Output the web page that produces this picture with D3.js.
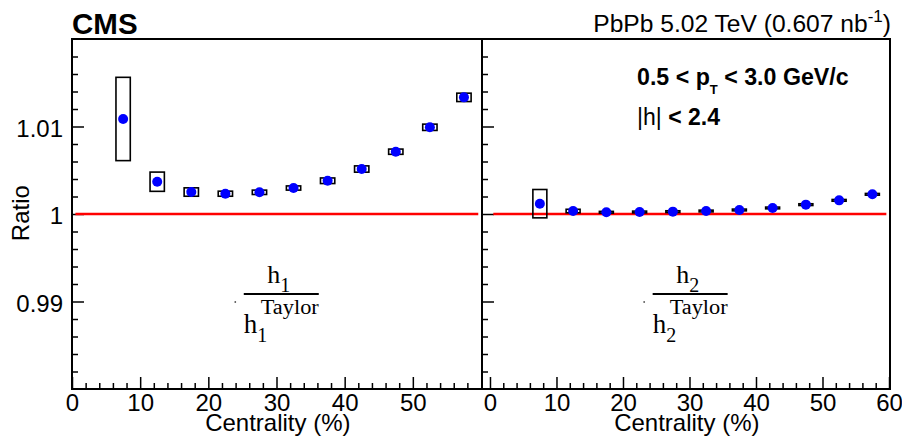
<!DOCTYPE html>
<html lang="en">
<head>
  <title>h1 h2 Taylor ratio</title>
  <script type="text/javascript" src="https://cdnjs.cloudflare.com/ajax/libs/d3/7.8.5/d3.min.js"></script>
  <style>
    body { margin: 0; background: #fff; }
    text { font-family: "Liberation Sans", Arial, Helvetica, sans-serif; }
    .serif, .serif text { font-family: "Liberation Serif", "Times New Roman", serif; }
  </style>
</head>
<body>
  <script type="text/javascript">
    var width = 902;
    var height = 443;

    // data
    var centrality = [7.5, 12.5, 17.5, 22.5, 27.5, 32.5, 37.5, 42.5, 47.5, 52.5, 57.5];
    var h1Ratio = [1.01086, 1.00369, 1.00251, 1.00232, 1.00248, 1.00297, 1.0038, 1.00514, 1.00712, 1.00991, 1.01333];
    var h1Sys   = [0.00476, 0.0011, 0.00048, 0.00029, 0.00025, 0.00024, 0.00032, 0.00036, 0.0003, 0.00036, 0.00048];
    var h2Ratio = [1.00118, 1.00034, 1.0002, 1.00023, 1.00027, 1.00034, 1.00046, 1.00069, 1.00107, 1.00156, 1.00225];
    var h2Sys   = [0.00162, 0.0002, 0.0001, 0.0001, 0.0001, 0.0001, 0.0001, 0.0001, 0.0001, 0.0001, 0.0001];
    var binHalf = 1.05;

    var xTicksLeft = [0, 10, 20, 30, 40, 50];
    var xTicksRight = [0, 10, 20, 30, 40, 50, 60];
    var yTicks = [0.99, 1, 1.01];

    var yTop = 39, yBottom = 389;
    var xL = d3.scaleLinear().domain([0, 60]).range([72, 481]);
    var xR = d3.scaleLinear().domain([-1.2, 60]).range([482, 889]);
    var y = d3.scaleLinear().domain([0.98, 1.02]).range([yBottom, yTop]);

    var svg = d3.select("body").append("svg")
      .attr("width", width)
      .attr("height", height);

    function minors(lo, hi, step, skip) {
      var out = [];
      for (var v = lo; v <= hi + 1e-9; v += step) {
        var r = Math.round(v * 1e6) / 1e6;
        if (skip.indexOf(r) < 0) out.push(r);
      }
      return out;
    }

    function xAxes(x, majors, lastTick) {
      var g = svg.append("g").attr("transform", "translate(0," + yBottom + ")");
      g.call(d3.axisBottom(x).tickValues(majors).tickSize(-12).tickPadding(5)
        .tickFormat(d3.format("d")));
      var m = svg.append("g").attr("transform", "translate(0," + yBottom + ")");
      m.call(d3.axisBottom(x).tickValues(minors(2, lastTick, 2, [10, 20, 30, 40, 50, 60]))
        .tickSize(-6).tickFormat(""));
      [g, m].forEach(function (s) {
        s.select(".domain").remove();
        s.selectAll("line").attr("stroke", "#000").attr("stroke-width", 1.5);
      });
      g.selectAll("text").attr("font-size", 24).attr("fill", "#000")
        .attr("font-family", "Liberation Sans, Arial, sans-serif");
    }
    xAxes(xL, xTicksLeft, 58);
    xAxes(xR, xTicksRight, 58);

    function yAxis(xpos, labels) {
      var g = svg.append("g").attr("transform", "translate(" + xpos + ",0)");
      g.call(d3.axisLeft(y).tickValues(yTicks).tickSize(-12).tickPadding(9)
        .tickFormat(labels ? function (d) { return d3.format("")(d); } : ""));
      var m = svg.append("g").attr("transform", "translate(" + xpos + ",0)");
      m.call(d3.axisLeft(y).tickValues(minors(0.982, 1.018, 0.002, yTicks)).tickSize(-6).tickFormat(""));
      [g, m].forEach(function (s) {
        s.select(".domain").remove();
        s.selectAll("line").attr("stroke", "#000").attr("stroke-width", 1.5);
      });
      g.selectAll("text").attr("font-size", 24).attr("fill", "#000").attr("dy", "0.4em")
        .attr("font-family", "Liberation Sans, Arial, sans-serif");
    }
    yAxis(72, true);
    yAxis(482, false);

    // frame and divider
    svg.append("rect")
      .attr("x", 72).attr("y", yTop)
      .attr("width", 890 - 72).attr("height", yBottom - yTop)
      .attr("fill", "none").attr("stroke", "#000").attr("stroke-width", 2);
    svg.append("line")
      .attr("x1", 482).attr("x2", 482).attr("y1", yTop).attr("y2", yBottom)
      .attr("stroke", "#000").attr("stroke-width", 2);

    function panel(x, vals, sys) {
      var g = svg.append("g");
      g.append("line")
        .attr("x1", x(0.5)).attr("x2", x(59.6))
        .attr("y1", y(1)).attr("y2", y(1))
        .attr("stroke", "#ff0000").attr("stroke-width", 2.6);
      g.selectAll("rect.sys").data(centrality).enter().append("rect")
        .attr("class", "sys")
        .attr("x", function (d) { return x(d - binHalf); })
        .attr("width", function (d) { return x(d + binHalf) - x(d - binHalf); })
        .attr("y", function (d, i) { return y(vals[i] + sys[i]); })
        .attr("height", function (d, i) { return y(vals[i] - sys[i]) - y(vals[i] + sys[i]); })
        .attr("fill", "none").attr("stroke", "#000").attr("stroke-width", 1.6);
      g.selectAll("circle").data(centrality).enter().append("circle")
        .attr("cx", function (d) { return x(d); })
        .attr("cy", function (d, i) { return y(vals[i]); })
        .attr("r", 5)
        .attr("fill", "#0000ff");
    }
    panel(xL, h1Ratio, h1Sys);
    panel(xR, h2Ratio, h2Sys);

    // axis titles
    svg.append("text").attr("x", xL(30.2)).attr("y", 431)
      .attr("text-anchor", "middle").attr("font-size", 24).text("Centrality (%)");
    svg.append("text").attr("x", xR(29.6)).attr("y", 431)
      .attr("text-anchor", "middle").attr("font-size", 24).text("Centrality (%)");
    svg.append("text")
      .attr("transform", "translate(29," + y(1.0001) + ") rotate(-90)")
      .attr("text-anchor", "middle").attr("font-size", 24).text("Ratio");

    // header
    svg.append("text").attr("x", 72).attr("y", 34)
      .attr("font-size", 29.5).attr("font-weight", "bold").text("CMS");
    var hd = svg.append("text").attr("x", 891).attr("y", 32)
      .attr("text-anchor", "end").attr("font-size", 24.6);
    hd.append("tspan").text("PbPb 5.02 TeV (0.607 nb");
    hd.append("tspan").attr("font-size", 17).attr("dy", -10).text("-1");
    hd.append("tspan").attr("dy", 10).text(")");

    // kinematic labels
    var pt = svg.append("text").attr("x", 637).attr("y", 85)
      .attr("font-size", 23.2).attr("font-weight", "bold");
    pt.append("tspan").text("0.5 < p");
    pt.append("tspan").attr("font-size", 13).attr("dy", 9).text("T");
    pt.append("tspan").attr("dy", -9).text(" < 3.0 GeV/c");
    var eta = svg.append("text").attr("x", 637).attr("y", 125).attr("font-size", 23);
    eta.append("tspan").text("|h|");
    eta.append("tspan").attr("font-weight", "bold").text(" < 2.4");

    // fraction labels
    function fraction(cx, idx) {
      var g = svg.append("g").attr("class", "serif");
      var by = 294;
      g.append("line").attr("x1", cx - 37.5).attr("x2", cx + 37.5)
        .attr("y1", by).attr("y2", by).attr("stroke", "#000").attr("stroke-width", 2);
      g.append("circle").attr("cx", cx - 46).attr("cy", by + 8).attr("r", 0.9).attr("fill", "#555");
      var num = g.append("text").attr("x", cx - 14).attr("y", 283).attr("font-size", 26);
      num.append("tspan").text("h");
      num.append("tspan").attr("font-size", 20).attr("dy", 9).text(idx);
      var den = g.append("text").attr("x", cx - 37.5).attr("y", 333).attr("font-size", 27);
      den.append("tspan").text("h");
      den.append("tspan").attr("font-size", 20).attr("dy", 9).text(idx);
      g.append("text").attr("x", cx - 20.5).attr("y", 314)
        .attr("font-size", 20).attr("textLength", 58).attr("lengthAdjust", "spacingAndGlyphs")
        .text("Taylor");
    }
    fraction(xL(30.7), "1");
    fraction(xR(30.1), "2");
  </script>
</body>
</html>
